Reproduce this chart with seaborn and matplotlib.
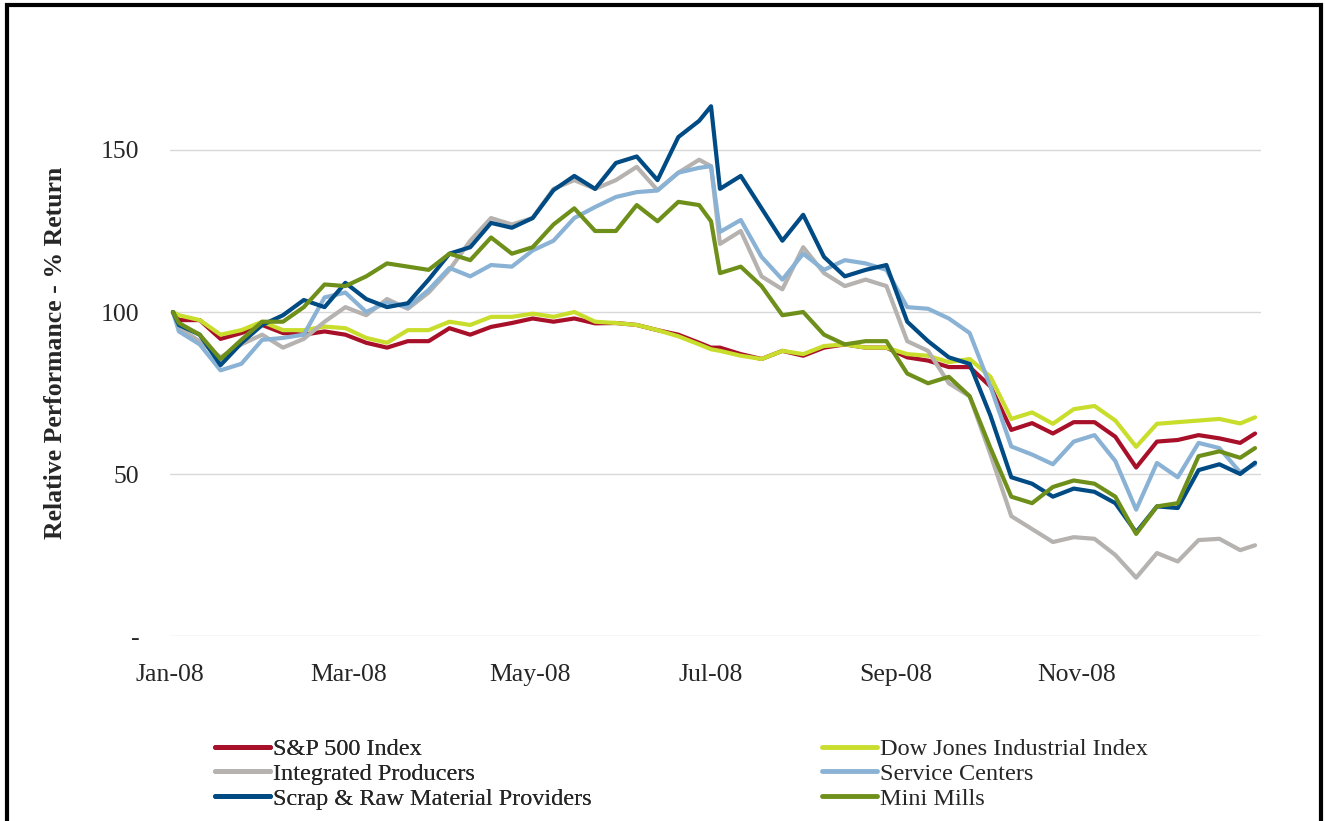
import numpy as np
import pandas as pd
import seaborn as sns
import matplotlib.pyplot as plt
import matplotlib.dates as mdates
from matplotlib.lines import Line2D
from matplotlib.patches import Rectangle

# weekly (Friday) readings plus first day, Jul 1 and last day of 2008
fridays = list(pd.date_range("2008-01-04", "2008-12-26", freq="W-FRI"))
extra_days = [pd.Timestamp("2008-01-02"), pd.Timestamp("2008-07-01"), pd.Timestamp("2008-12-31")]
dates = sorted(fridays + extra_days)

sp500 = [100, 97.5, 97.5, 91.7, 93.5, 96, 93.5, 93, 94, 93, 90.5, 89, 91, 91, 95, 93, 95.4, 96.6, 98, 97,
         98, 96.5, 96.6, 96, 94.4, 93, 90.5, 89, 89, 87, 85.5, 88, 86.5, 89, 90, 89, 89, 86, 85, 83,
         83, 77, 63.6, 65.7, 62.5, 66, 66, 61.5, 52, 60, 60.5, 62, 61, 59.6, 62.5]
dow = [100, 99, 97.5, 93, 94.4, 97, 94.4, 94.4, 95.5, 95, 92, 90.5, 94.4, 94.4, 97, 96, 98.5, 98.5, 99.5, 98.5,
       100, 97, 96.6, 96, 94.4, 92.5, 90, 88.5, 88, 86.5, 85.5, 88, 87, 89.5, 90, 89, 89, 87, 86.5, 84.5,
       85.5, 80, 67, 69, 65.5, 70, 71, 66.5, 58.4, 65.5, 66, 66.5, 67, 65.6, 67.5]
integrated = [100, 95, 91, 86, 90, 93, 89, 91.7, 97, 101.5, 99, 104, 101, 106, 113, 122, 129, 127, 129, 138,
              140.7, 138, 140.7, 144.8, 137.6, 143, 147, 145, 121, 125, 111, 107, 120, 112, 108, 110, 108, 91, 88, 78,
              74, 56, 37, 33, 29, 30.5, 30, 25, 18, 25.6, 23, 29.6, 30, 26.5, 28]
service = [100, 94, 90, 82, 84, 91.4, 92, 93, 104.5, 106, 100, 103, 101.5, 106.8, 113.6, 111, 114.5, 114, 119, 122,
           129, 132.4, 135.5, 137, 137.5, 143, 144.5, 145, 124.7, 128.4, 117, 110, 118, 113, 116, 115, 113, 101.5, 101, 98,
           93.5, 77, 58.5, 56, 53, 60, 62, 54, 39, 53.4, 49, 59.6, 58, 50.5, 53]
scrap = [100, 96, 93, 83.6, 90.4, 96, 99, 103.7, 101.5, 109, 104, 101.5, 102.7, 110, 118, 120, 127.5, 126, 129, 137.6,
         142, 138, 146, 148, 140.7, 154, 159, 163.5, 138, 142, 132, 122, 130, 117, 111, 113, 114.5, 97, 91, 86,
         84, 68, 49, 47, 43, 45.5, 44.5, 41, 32, 40, 39.5, 51.2, 53, 50, 53.5]
mini_mills = [100, 96.6, 93, 85.5, 91.4, 97, 97, 101.5, 108.5, 108, 111, 115, 114, 113, 118, 116, 123, 118, 120, 127,
              132, 125, 125, 133, 128, 134, 133, 128, 112, 114, 108, 99, 100, 93, 90, 91, 91, 81, 78, 80,
              74, 58, 43, 41, 46, 48, 47, 43, 31.5, 40, 41, 55.5, 57, 55, 58]

names = ["S&P 500 Index", "Dow Jones Industrial Index", "Integrated Producers",
         "Service Centers", "Scrap & Raw Material Providers", "Mini Mills"]
colors = ["#A8102A", "#C9DD2C", "#B5B2B0", "#8AB2D4", "#004B84", "#6E901A"]
tick_months = pd.date_range("2008-01-01", "2008-11-01", freq="2MS")

df = pd.DataFrame({"Date": dates, names[0]: sp500, names[1]: dow, names[2]: integrated,
                   names[3]: service, names[4]: scrap, names[5]: mini_mills})
long = df.melt(id_vars="Date", var_name="Series", value_name="Return")

sns.set_style("white")
plt.rcParams["font.family"] = ["Liberation Serif", "DejaVu Serif"]

W, H = 1325, 821
fig = plt.figure(figsize=(W / 100, H / 100), dpi=100)
ax = fig.add_axes([170 / W, 1 - 636 / H, (1261 - 170) / W, (636 - 69) / H])

sns.lineplot(data=long, x="Date", y="Return", hue="Series", hue_order=names,
             palette=colors, linewidth=3, ax=ax, legend=False)

ax.set_ylim(0, 175)
ax.set_xlim(pd.Timestamp("2008-01-01"), pd.Timestamp("2009-01-02"))
ax.set_yticks([0, 50, 100, 150])
ax.set_yticklabels(["-", "50", "100", "150"])
ax.set_xticks(tick_months)
ax.xaxis.set_major_formatter(mdates.DateFormatter("%b-%y"))
ax.tick_params(axis="both", length=0, labelsize=18.5)
ax.tick_params(axis="y", pad=22)
ax.tick_params(axis="x", pad=20)
ax.grid(axis="y", color="#D9D9D9", linewidth=1)
ax.grid(axis="x", visible=False)
ax.set_axisbelow(True)
for s in ax.spines.values():
    s.set_visible(False)
ax.set_xlabel("")
ax.set_ylabel("Relative Performance - % Return", fontsize=18.5, fontweight="bold", labelpad=24)

handles = [Line2D([0], [0], color=c, linewidth=3.5) for c in colors]
leg_kw = dict(loc="upper left", frameon=False, fontsize=17.5, handlelength=2.25,
              handletextpad=0.15, labelspacing=0.12, borderpad=0, borderaxespad=0)
leg1 = fig.legend([handles[0], handles[2], handles[4]], [names[0], names[2], names[4]],
                  bbox_to_anchor=(215 / W, 1 - 738 / H), **leg_kw)
fig.add_artist(leg1)
fig.legend([handles[1], handles[3], handles[5]], [names[1], names[3], names[5]],
           bbox_to_anchor=(822 / W, 1 - 738 / H), **leg_kw)

fig.add_artist(Rectangle((7 / W, -0.05), (1321 - 7) / W, 1.05 - 5 / H, fill=False,
                         edgecolor="black", linewidth=3, transform=fig.transFigure, clip_on=False))

fig.savefig("out.png", dpi=100)
